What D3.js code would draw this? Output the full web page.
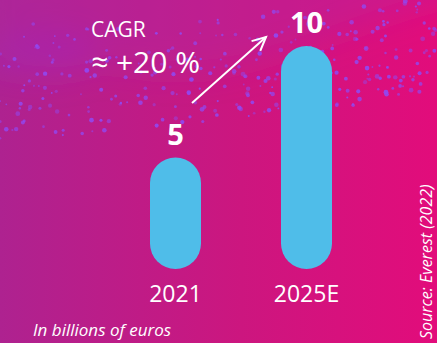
<!DOCTYPE html>
<html>
<head>
<meta charset="utf-8">
<script src="https://cdn.jsdelivr.net/npm/d3@7"></script>
<style>
  body { margin: 0; background: #c0197f; }
  svg { display: block; }
  text { font-family: "Open Sans", "Noto Sans", sans-serif; fill: #fff; }
</style>
</head>
<body>
<script>
// chart data
var years = ["2021", "2025E"];
var values = [5, 10];
var valueLabels = ["5", "10"];
var cagrTitle = "CAGR";
var cagrValue = "\u2248 +20 %";
var unitNote = "In billions of euros";
var sourceNote = "Source: Everest (2022)";

var width = 437, height = 343;

var svg = d3.select("body").append("svg")
    .attr("width", width)
    .attr("height", height);

var defs = svg.append("defs");

// background gradient, purple on the left to pink on the right
var bg = defs.append("linearGradient").attr("id", "bg")
    .attr("x1", "0%").attr("y1", "0%").attr("x2", "100%").attr("y2", "0%");
bg.append("stop").attr("offset", "0%").attr("stop-color", "#ae2290");
bg.append("stop").attr("offset", "55%").attr("stop-color", "#cc167f");
bg.append("stop").attr("offset", "100%").attr("stop-color", "#e20c7b");

defs.append("filter").attr("id", "blur")
    .attr("filterUnits", "userSpaceOnUse")
    .attr("x", -100).attr("y", -100).attr("width", 640).attr("height", 400)
    .append("feGaussianBlur").attr("stdDeviation", 16);

svg.append("rect").attr("width", width).attr("height", height).attr("fill", "url(#bg)");

// purple haze along the top
var haze = svg.append("g").attr("filter", "url(#blur)");
haze.append("path")
    .attr("d", "M-20,30 C80,60 160,85 240,65 C320,45 380,15 460,-5 L460,-40 L-20,-40 Z")
    .attr("fill", "#a82ab0").attr("opacity", 0.3);
haze.append("ellipse").attr("cx", 40).attr("cy", 55).attr("rx", 60).attr("ry", 20)
    .attr("fill", "#9a30d8").attr("opacity", 0.3);

// particles (decorative, fixed seed)
var seed = 7;
function rnd() { seed = (seed * 16807) % 2147483647; return (seed - 1) / 2147483646; }
var dots = [];
for (var i = 0; i < 320; i++) {
  var px = rnd() * width;
  var yTop = 25 - px * 0.07;
  var yBot = 145 - px * 0.11;
  var t = Math.pow(rnd(), 0.7);
  dots.push({x: px, y: yTop + (yBot - yTop) * t, r: 0.9 + rnd() * 1.5, o: 0.45 + rnd() * 0.5});
}
svg.append("g")
  .selectAll("circle").data(dots).enter().append("circle")
    .attr("cx", function(d) { return d.x; })
    .attr("cy", function(d) { return d.y; })
    .attr("r", function(d) { return d.r; })
    .attr("fill", "#9148f0")
    .attr("opacity", function(d) { return d.o; });

// scales
var x = d3.scalePoint().domain(years).range([175.5, 306.5]);
var y = d3.scaleLinear().domain([0, 10]).range([269, 46]);
var barW = 51;

// bars as pills
svg.selectAll(".bar")
    .data(values)
    .enter().append("rect")
    .attr("class", "bar")
    .attr("x", function(d, i) { return x(years[i]) - barW / 2; })
    .attr("y", function(d) { return y(d); })
    .attr("width", barW)
    .attr("height", function(d) { return y(0) - y(d); })
    .attr("rx", barW / 2)
    .attr("fill", "#4fbde9");

// value labels
svg.selectAll(".val")
    .data(values)
    .enter().append("text")
    .attr("class", "val")
    .attr("x", function(d, i) { return x(years[i]); })
    .attr("y", function(d) { return y(d) - 13; })
    .attr("text-anchor", "middle")
    .style("font-size", "29px")
    .style("font-weight", "bold")
    .text(function(d, i) { return valueLabels[i]; });

// x axis labels
svg.selectAll(".year")
    .data(years)
    .enter().append("text")
    .attr("class", "year")
    .attr("x", function(d) { return x(d); })
    .attr("y", 302)
    .attr("text-anchor", "middle")
    .style("font-size", "23px")
    .text(function(d) { return d; });

// CAGR annotation
svg.append("text").attr("x", 91).attr("y", 37)
    .style("font-size", "21px").text(cagrTitle);
svg.append("text").attr("x", 91).attr("y", 73)
    .style("font-size", "30px").text(cagrValue);

var a0 = [192, 103], a1 = [266, 37];
svg.append("line")
    .attr("x1", a0[0]).attr("y1", a0[1]).attr("x2", a1[0]).attr("y2", a1[1])
    .attr("stroke", "#fff").attr("stroke-width", 2);
var ang = Math.atan2(a1[1] - a0[1], a1[0] - a0[0]);
var hl = 15, spread = 0.45;
svg.append("path")
    .attr("d", "M" + (a1[0] - hl * Math.cos(ang - spread)) + "," + (a1[1] - hl * Math.sin(ang - spread)) +
               "L" + a1[0] + "," + a1[1] +
               "L" + (a1[0] - hl * Math.cos(ang + spread)) + "," + (a1[1] - hl * Math.sin(ang + spread)))
    .attr("fill", "none").attr("stroke", "#fff").attr("stroke-width", 2)
    .attr("stroke-linejoin", "miter");

// notes
svg.append("text").attr("x", 33).attr("y", 336)
    .style("font-size", "17px").style("font-style", "italic").text(unitNote);
svg.append("text")
    .attr("transform", "translate(432,339) rotate(-90)")
    .style("font-size", "16px").style("font-style", "italic").text(sourceNote);
</script>
</body>
</html>
